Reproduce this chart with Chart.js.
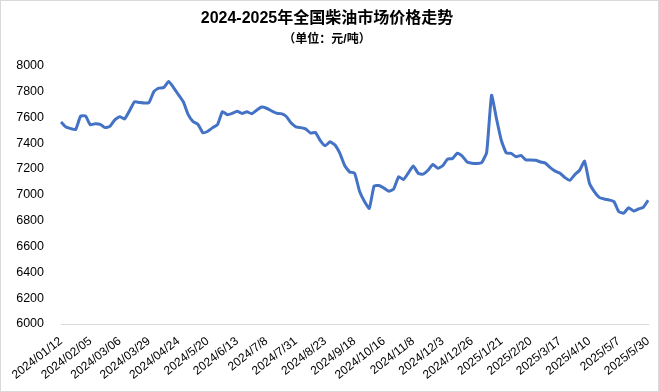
<!DOCTYPE html>
<html>
<head>
<meta charset="utf-8">
<script src="https://cdn.jsdelivr.net/npm/chart.js@4.4.1/dist/chart.umd.min.js"></script>
<style>
  html, body { margin: 0; padding: 0; background: #fff; }
  #wrap { width: 659px; height: 392px; }
</style>
</head>
<body>
<div id="wrap"><canvas id="diesel-chart" width="659" height="392"></canvas></div>
<script>
// tick labels shown on the x axis (one every 6 samples)
const tickLabels = [
  '2024/01/12', '2024/02/05', '2024/03/06', '2024/03/29', '2024/04/24',
  '2024/5/20', '2024/6/13', '2024/7/8', '2024/7/31', '2024/8/23',
  '2024/9/18', '2024/10/16', '2024/11/8', '2024/12/3', '2024/12/26',
  '2025/1/21', '2025/2/20', '2025/3/17', '2025/4/10', '2025/5/7', '2025/5/30'
];

// 全国柴油市场价格 (元/吨)
const prices = [
  7564, 7525, 7512, 7505, 7608, 7610, 7542, 7550, 7545, 7520,
  7530, 7580, 7605, 7587, 7650, 7720, 7715, 7710, 7715, 7800,
  7825, 7830, 7877, 7830, 7775, 7720, 7620, 7566, 7545, 7480,
  7492, 7520, 7544, 7644, 7620, 7630, 7646, 7630, 7642, 7627,
  7655, 7679, 7670, 7650, 7632, 7628, 7608, 7557, 7526, 7520,
  7510, 7478, 7482, 7420, 7380, 7410, 7385, 7320, 7225, 7177,
  7168, 7030, 6950, 6895, 7069, 7072, 7052, 7028, 7045, 7140,
  7118, 7170, 7223, 7167, 7160, 7190, 7234, 7205, 7225, 7276,
  7280, 7322, 7300, 7254, 7244, 7242, 7250, 7330, 7770, 7590,
  7420, 7325, 7320, 7295, 7305, 7270, 7270, 7268, 7254, 7245,
  7210, 7183, 7167, 7133, 7112, 7155, 7190, 7260, 7090, 7025,
  6980, 6968, 6960, 6948, 6870, 6858, 6900, 6875, 6890, 6903,
  6958
];

const yTicks = [6000, 6200, 6400, 6600, 6800, 7000, 7200, 7400, 7600, 7800, 8000];

const step = 6;
const labels = prices.map((_, i) => (i % step === 0 ? tickLabels[i / step] : ''));

const fontFamily = '"Liberation Sans", Arial, "Noto Sans CJK SC", sans-serif';

const frame = {
  id: 'frame',
  beforeDraw(chart) {
    const ctx = chart.ctx;
    ctx.save();
    ctx.fillStyle = '#fff';
    ctx.fillRect(0, 0, chart.width, chart.height);
    ctx.strokeStyle = '#d9d9d9';
    ctx.lineWidth = 1;
    ctx.strokeRect(0.5, 0.5, chart.width - 1, chart.height - 1);
    ctx.restore();
  }
};

new Chart(document.getElementById('diesel-chart'), {
  type: 'line',
  data: {
    labels,
    datasets: [{
      label: '柴油价格',
      data: prices,
      borderColor: '#4472C4',
      borderWidth: 3,
      pointRadius: 0,
      tension: 0.15,
      fill: false
    }]
  },
  options: {
    responsive: false,
    animation: false,
    layout: { padding: { left: 0, right: 5, top: 0, bottom: 0 } },
    plugins: {
      legend: { display: false },
      tooltip: { enabled: false },
      title: {
        display: true,
        text: '2024-2025年全国柴油市场价格走势',
        color: '#000',
        font: { family: fontFamily, size: 16, weight: 'bold' },
        padding: { top: 9, bottom: 2 }
      },
      subtitle: {
        display: true,
        text: '（单位：元/吨）',
        color: '#000',
        font: { family: fontFamily, size: 12, weight: 'bold' },
        padding: { top: 2, bottom: 19 }
      }
    },
    scales: {
      x: {
        grid: { display: false },
        border: { display: true, color: '#d9d9d9', width: 1 },
        ticks: {
          autoSkip: false,
          minRotation: 38,
          maxRotation: 38,
          color: '#000',
          padding: 2,
          font: { family: fontFamily, size: 12 }
        },
        afterFit: (scale) => { scale.height = 68; }
      },
      y: {
        min: 6000,
        max: 8000,
        afterBuildTicks: (scale) => { scale.ticks = yTicks.map(v => ({ value: v })); },
        grid: { display: false },
        border: { display: false },
        ticks: {
          color: '#000',
          padding: 9,
          font: { family: fontFamily, size: 12.5 },
          callback: (v) => String(v)
        },
        afterFit: (scale) => { scale.width = 61; }
      }
    }
  },
  plugins: [frame]
});
</script>
</body>
</html>
